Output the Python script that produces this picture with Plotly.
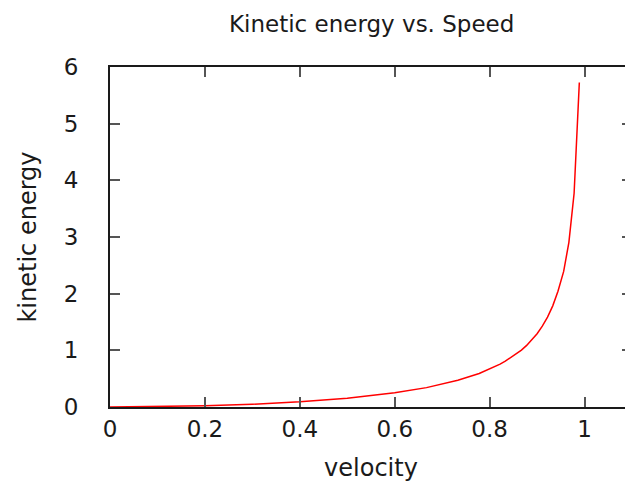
import plotly.graph_objects as go

# Data
velocity = [0.0, 0.1, 0.2, 0.3, 0.4, 0.5, 0.556, 0.6, 0.667, 0.7, 0.733, 0.778, 0.8,
            0.811, 0.822, 0.833, 0.844, 0.856, 0.867, 0.878, 0.889, 0.9, 0.911, 0.922,
            0.933, 0.944, 0.956, 0.967, 0.978, 0.989]
kinetic_energy = [0.0, 0.005, 0.021, 0.048, 0.091, 0.155, 0.203, 0.25, 0.342, 0.400, 0.471,
                  0.591, 0.667, 0.710, 0.757, 0.809, 0.867, 0.932, 1.004, 1.087, 1.183,
                  1.294, 1.426, 1.586, 1.785, 2.043, 2.392, 2.906, 3.772, 5.727]
x_ticks = [0, 0.2, 0.4, 0.6, 0.8, 1]
x_tick_labels = ["0", "0.2", "0.4", "0.6", "0.8", "1"]
y_ticks = [0, 1, 2, 3, 4, 5, 6]
chart_title = "Kinetic energy vs. Speed"

FONT = "DejaVu Sans"
TXT = "#1a1a1a"

fig = go.Figure()
fig.add_trace(go.Scatter(x=velocity, y=kinetic_energy, mode="lines",
                         line=dict(color="#ff0000", width=1.5), showlegend=False))

axis_common = dict(showline=True, linecolor="#1a1a1a", linewidth=2, mirror="ticks",
                   ticks="inside", ticklen=10, tickwidth=1.5, tickcolor="#555555",
                   showgrid=False, zeroline=False,
                   tickfont=dict(family=FONT, size=23, color=TXT))

fig.update_layout(
    width=633, height=487,
    paper_bgcolor="white", plot_bgcolor="white",
    margin=dict(l=102, r=7, t=59, b=88),
    xaxis=dict(range=[0, 1.1], tickvals=x_ticks, ticktext=x_tick_labels,
               ticklabelstandoff=0,
               title=dict(text="velocity", font=dict(family=FONT, size=24, color=TXT), standoff=19),
               **axis_common),
    yaxis=dict(range=[0, 6], tickvals=y_ticks, ticklabelstandoff=25,
               title=dict(text="kinetic energy", font=dict(family=FONT, size=24, color=TXT), standoff=20),
               **axis_common),
)
fig.add_annotation(text=chart_title, xref="paper", yref="paper", x=0.5, y=1 + 43 / 340,
                   xanchor="center", yanchor="middle", showarrow=False,
                   font=dict(family=FONT, size=23, color=TXT))

fig.write_html("out.html")
